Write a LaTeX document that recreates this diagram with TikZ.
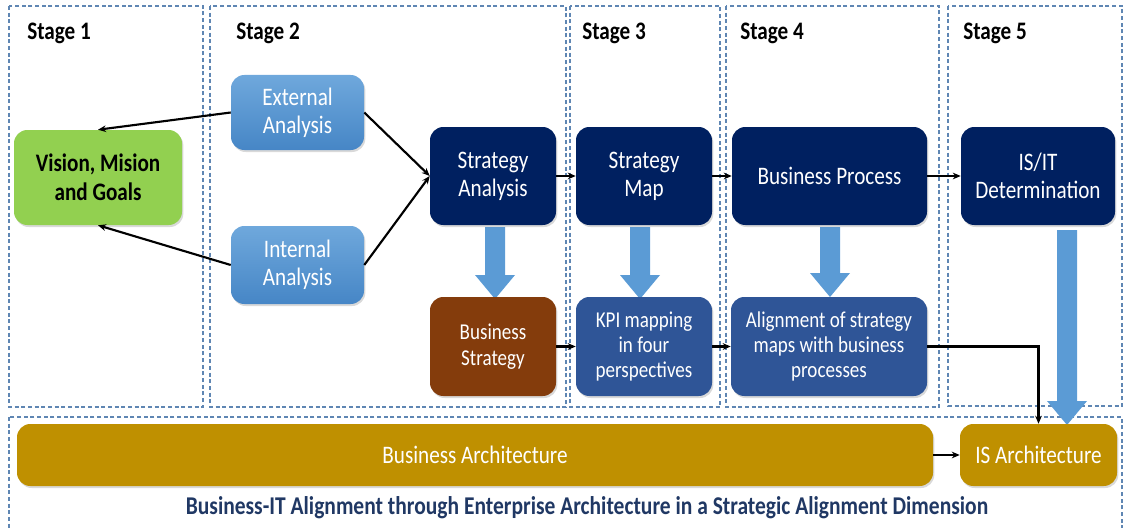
\documentclass[tikz,border=0pt]{standalone}
\usepackage{fontspec}
\setmainfont{Carlito}[FakeStretch=0.84]
\usetikzlibrary{arrows.meta,shadows}
\definecolor{panelc}{HTML}{5F86B3}
\definecolor{navy}{HTML}{002060}
\definecolor{midblue}{HTML}{2F5597}
\definecolor{brownc}{HTML}{843C0C}
\definecolor{greenc}{HTML}{92D050}
\definecolor{goldc}{HTML}{BF9000}
\definecolor{lbtop}{HTML}{6FA8DC}
\definecolor{lbbot}{HTML}{4686C6}
\definecolor{arrowblue}{HTML}{5B9BD5}
\definecolor{captionc}{HTML}{203864}
\newcommand\mkbox[7]{\node[#1,minimum width={(#5-#3)*0.75pt},minimum height={(#6-#4)*0.75pt}] (#2) at ({(#3+#5)/2},{(#4+#6)/2}) {#7};}
\newcommand\fatdown[3]{\fill[fatarrow] ({#1-10},#2) -- ({#1+10},#2) -- ({#1+10},{#3-24}) -- ({#1+20},{#3-24}) -- (#1,#3) -- ({#1-20},{#3-24}) -- ({#1-10},{#3-24}) -- cycle;}
\begin{document}
\begin{tikzpicture}[x=0.75pt,y=-0.75pt,
  panelbox/.style={draw=panelc,line width=0.8pt,dash pattern=on 3pt off 2pt},
  stagelbl/.style={anchor=west,font=\bfseries\fontsize{18.9}{21}\selectfont,text=black,inner sep=0pt},
  rbox/.style={rounded corners=10pt,align=center,inner sep=2pt,text=white,drop shadow={opacity=0.3,shadow xshift=1pt,shadow yshift=-1.5pt}},
  toprow/.style={rbox,fill=navy,font=\fontsize{18.9}{21}\selectfont},
  lowrow/.style={rbox,fill=midblue,font=\fontsize{17}{19}\selectfont},
  brownbox/.style={rbox,fill=brownc,font=\fontsize{17}{19}\selectfont},
  lightbox/.style={rbox,top color=lbtop,bottom color=lbbot,font=\fontsize{18.9}{21}\selectfont},
  greenbox/.style={rbox,fill=greenc,text=black,font=\bfseries\fontsize{18.9}{21.75}\selectfont},
  goldbox/.style={rbox,fill=goldc,font=\fontsize{18.9}{21}\selectfont},
  conn/.style={draw=black,line width=1.6pt,-{Stealth[length=6pt,width=5pt]}},
  fatarrow/.style={fill=arrowblue}
]
\clip (0,0) rectangle (1124,528);
% panels
\draw[panelbox] (9,6) rectangle (203,407);
\draw[panelbox] (210,6) rectangle (566,407);
\draw[panelbox] (570,6) rectangle (720,407);
\draw[panelbox] (726,6) rectangle (939,407);
\draw[panelbox] (948,6) rectangle (1122,406);
\draw[panelbox] (9,417) rectangle (1122,540);
% stage labels
\node[stagelbl] (s1) at (27,33) {Stage 1};
\node[stagelbl] (s2) at (236,33) {Stage 2};
\node[stagelbl] (s3) at (582,33) {Stage 3};
\node[stagelbl] (s4) at (740,33) {Stage 4};
\node[stagelbl] (s5) at (963,33) {Stage 5};
% fat arrows
\fatdown{495}{227}{299}
\fatdown{640}{227}{299}
\fatdown{830}{227}{297}
\fatdown{1067}{230}{425}
% nodes
\mkbox{greenbox}{vis}{14}{130}{182}{225}{Vision, Mision\\and Goals}
\mkbox{lightbox}{ext}{231}{75}{364}{150}{External\\Analysis}
\mkbox{lightbox}{int}{231}{226}{364}{304}{Internal\\Analysis}
\mkbox{toprow}{sa}{430}{127}{556}{225}{Strategy\\Analysis}
\mkbox{toprow}{sm}{576}{127}{712}{225}{Strategy\\Map}
\mkbox{toprow}{bp}{732}{127}{927}{225}{Business Process}
\mkbox{toprow}{isit}{961}{127}{1115}{225}{IS/IT\\Determination}
\mkbox{brownbox}{bs}{430}{297}{556}{396}{Business\\Strategy}
\mkbox{lowrow}{kpi}{576}{297}{712}{396}{KPI mapping\\in four\\perspectives}
\mkbox{lowrow}{al}{731}{297}{927}{396}{Alignment of strategy\\maps with business\\processes}
\mkbox{goldbox}{ba}{17}{424}{933}{486}{Business Architecture}
\mkbox{goldbox}{isa}{960}{424}{1117}{486}{IS Architecture}
\node[font=\bfseries\fontsize{19.2}{21}\selectfont,text=captionc] (cap) at (587,508) {Business-IT Alignment through Enterprise Architecture in a Strategic Alignment Dimension};
% connectors
\draw[conn] (ext.west) -- (vis.north);
\draw[conn] (int.west) -- (vis.south);
\draw[conn] (ext.east) -- (sa.west);
\draw[conn] (int.east) -- (sa.west);
\draw[conn] (sa.east) -- (sm.west);
\draw[conn] (sm.east) -- (bp.west);
\draw[conn] (bp.east) -- (isit.west);
\draw[conn] (bs.east) -- (kpi.west);
\draw[conn] (kpi.east) -- (al.west);
\draw[conn] (al.east) -| (isa.north);
\draw[conn] (ba.east) -- (isa.west);
\end{tikzpicture}
\end{document}
